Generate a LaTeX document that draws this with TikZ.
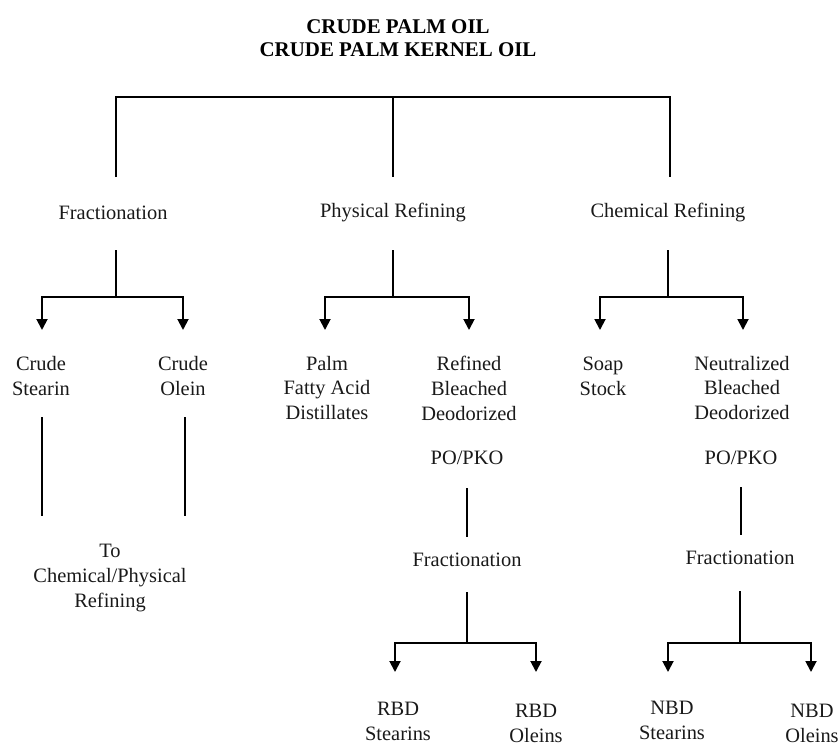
\documentclass[tikz,border=0pt]{standalone}
\usepackage{fontspec}
\setmainfont{Liberation Serif}
\usetikzlibrary{arrows.meta}
\begin{document}
\begin{tikzpicture}[x=1bp,y=-1bp,
  lbl/.style={inner sep=0pt,align=center,font=\fontsize{20.5}{25}\selectfont,text=black!90},
  ttl/.style={inner sep=0pt,align=center,font=\bfseries\fontsize{21}{23}\selectfont},
  ln/.style={line width=1.9bp,line cap=butt},
  arr/.style={ln,-{Triangle[width=11bp,length=11bp]}}]
\useasboundingbox (0,0) rectangle (840,746);
% title
\node[ttl] (title) at (398,38) {CRUDE PALM OIL\\CRUDE PALM KERNEL OIL};
% level 1
\node[lbl] (frac) at (113,213) {Fractionation};
\node[lbl] (phys) at (393,213) {Physical Refining};
\node[lbl] (chem) at (668,213) {Chemical Refining};
% level 2
\node[lbl] (cst) at (41,376) {Crude\\Stearin};
\node[lbl] (col) at (183,376) {Crude\\Olein};
\node[lbl] (pfad) at (327,388) {Palm\\Fatty Acid\\Distillates};
\node[lbl] (rbd) at (469,388) {Refined\\Bleached\\Deodorized};
\node[lbl] (soap) at (603,376) {Soap\\Stock};
\node[lbl] (nbd) at (742,388) {Neutralized\\Bleached\\Deodorized};
% further
\node[lbl] (to) at (110,578) {To\\Chemical/Physical\\Refining};
\node[lbl] (po1) at (467,458) {PO/PKO};
\node[lbl] (po2) at (741,458) {PO/PKO};
\node[lbl] (fr1) at (467,560) {Fractionation};
\node[lbl] (fr2) at (740,558) {Fractionation};
\node[lbl] (rbs) at (398,721) {RBD\\Stearins};
\node[lbl] (rbo) at (536,723) {RBD\\Oleins};
\node[lbl] (nbs) at (672,720) {NBD\\Stearins};
\node[lbl] (nbo) at (812,723) {NBD\\Oleins};
% coordinates
\coordinate (tl) at (116,97);
\coordinate (tm) at (393,97);
\coordinate (tr) at (670,97);
\coordinate (d1) at (116,177);
\coordinate (d2) at (393,177);
\coordinate (d3) at (670,177);
\coordinate (f1) at (116,250);  \coordinate (fj) at (116,297);
\coordinate (p1) at (393,250);  \coordinate (pj) at (393,297);
\coordinate (c1) at (668,250);  \coordinate (cj) at (668,297);
\coordinate (a1) at (42,330);   \coordinate (a2) at (183,330);
\coordinate (a3) at (325,330);  \coordinate (a4) at (469,330);
\coordinate (a5) at (600,330);  \coordinate (a6) at (743,330);
\coordinate (s1) at (42,417);   \coordinate (s2) at (42,516);
\coordinate (o1) at (185,417);  \coordinate (o2) at (185,516);
\coordinate (r1) at (467,488);  \coordinate (r2) at (467,537);
\coordinate (n1) at (741,487);  \coordinate (n2) at (741,535);
\coordinate (r3) at (467,592);  \coordinate (rj) at (467,643);
\coordinate (n3) at (740,591);  \coordinate (nj) at (740,643);
\coordinate (b1) at (395,672);  \coordinate (b2) at (536,672);
\coordinate (b3) at (668,672);  \coordinate (b4) at (811,672);
% top tree
\draw[ln] (d1) -- (tl) -- (tr) -- (d3);
\draw[ln] (tm) -- (d2);
% second level
\draw[ln] (f1) -- (fj);
\draw[arr] (fj) -| (a1);
\draw[arr] (fj) -| (a2);
\draw[ln] (p1) -- (pj);
\draw[arr] (pj) -| (a3);
\draw[arr] (pj) -| (a4);
\draw[ln] (c1) -- (cj);
\draw[arr] (cj) -| (a5);
\draw[arr] (cj) -| (a6);
% crude lines
\draw[ln] (s1) -- (s2);
\draw[ln] (o1) -- (o2);
% lower chains
\draw[ln] (r1) -- (r2);
\draw[ln] (n1) -- (n2);
\draw[ln] (r3) -- (rj);
\draw[arr] (rj) -| (b1);
\draw[arr] (rj) -| (b2);
\draw[ln] (n3) -- (nj);
\draw[arr] (nj) -| (b3);
\draw[arr] (nj) -| (b4);
\end{tikzpicture}
\end{document}
